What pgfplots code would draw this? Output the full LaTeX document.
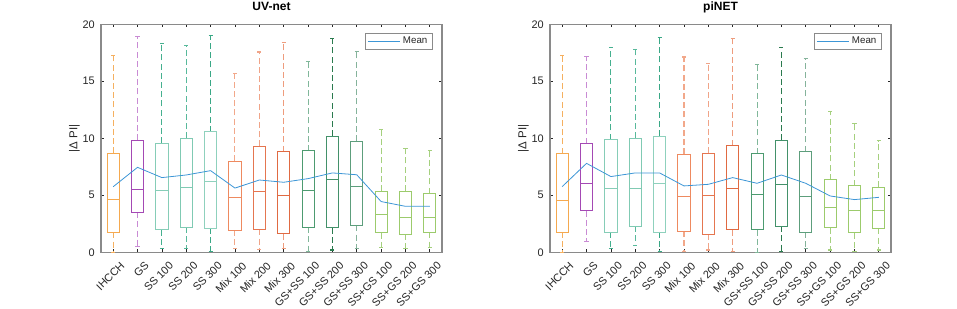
\documentclass[border=0pt]{standalone}
\usepackage{pgfplots}
\pgfplotsset{compat=1.18}
\usepackage{pgfplotstable}
\usepgfplotslibrary{statistics}
\usepackage{fontspec}
\setmainfont{Liberation Sans}

\definecolor{axgray}{HTML}{8A8A8A}
\definecolor{txt}{HTML}{262626}
\definecolor{meanc}{HTML}{3D96D6}
% box / whisker colours
\definecolor{b1}{HTML}{F5A94F}\definecolor{w1}{HTML}{F5B060}
\definecolor{b2}{HTML}{A449B4}\definecolor{w2}{HTML}{C98BD4}
\definecolor{b3}{HTML}{86CDB7}\definecolor{w3}{HTML}{45B08F}
\definecolor{b4}{HTML}{80CAB3}\definecolor{w4}{HTML}{58B99B}
\definecolor{b5}{HTML}{8FD1BD}\definecolor{w5}{HTML}{3AA886}
\definecolor{b6}{HTML}{EE8A60}\definecolor{w6}{HTML}{F2A88A}
\definecolor{b7}{HTML}{E57650}\definecolor{w7}{HTML}{F0A488}
\definecolor{b8}{HTML}{E06A42}\definecolor{w8}{HTML}{EE9C7D}
\definecolor{b9}{HTML}{4D9B70}\definecolor{w9}{HTML}{80B79A}
\definecolor{b10}{HTML}{43916A}\definecolor{w10}{HTML}{2A7A4E}
\definecolor{b11}{HTML}{5D9E7C}\definecolor{w11}{HTML}{85B39B}
\definecolor{b12}{HTML}{9CCB6C}\definecolor{w12}{HTML}{A5D07E}
\definecolor{b13}{HTML}{9CCB6C}\definecolor{w13}{HTML}{A5D07E}
\definecolor{b14}{HTML}{9CCB6C}\definecolor{w14}{HTML}{A5D07E}

% UV-net: lower whisker, Q1, median, Q3, upper whisker, mean
\pgfplotstableread{
pos lw q1 med q3 uw mean
1 0.00 1.75 4.60 8.68 17.30 5.75
2 0.50 3.52 5.47 9.82 18.90 7.45
3 0.37 1.96 5.42 9.57 18.30 6.55
4 0.37 2.21 5.67 9.98 18.10 6.78
5 0.10 2.13 6.18 10.57 19.00 7.16
6 0.30 1.95 4.85 7.97 15.72 5.63
7 0.25 2.00 5.30 9.28 17.57 6.34
8 0.33 1.62 5.00 8.83 18.39 6.14
9 0.05 2.20 5.40 8.89 16.70 6.46
10 0.20 2.15 6.42 10.19 18.77 6.96
11 0.30 2.36 5.80 9.74 17.60 6.80
12 0.40 1.71 3.32 5.37 10.75 4.45
13 0.30 1.60 3.03 5.37 9.08 4.03
14 0.45 1.75 3.03 5.15 8.90 4.03
}\uvnet

% piNET
\pgfplotstableread{
pos lw q1 med q3 uw mean
1 0.00 1.78 4.56 8.65 17.30 5.76
2 0.91 3.65 6.08 9.53 17.16 7.80
3 0.30 1.78 5.64 9.88 18.00 6.64
4 0.61 2.28 5.58 10.00 17.80 6.96
5 0.10 1.78 6.08 10.20 18.86 6.96
6 0.05 1.84 4.88 8.60 17.13 5.82
7 0.20 1.58 5.00 8.68 16.58 5.96
8 0.05 1.99 5.56 9.36 18.74 6.55
9 0.00 1.96 5.09 8.63 16.46 6.05
10 0.05 2.28 5.96 9.82 17.98 6.78
11 0.30 1.78 4.88 8.83 16.96 6.05
12 0.20 2.16 3.89 6.35 12.34 4.94
13 0.10 1.70 3.65 5.85 11.29 4.62
14 0.20 2.10 3.71 5.70 9.80 4.82
}\pinet

% #1 table, #2 row (0-based), #3 position
\newcommand{\bx}[3]{%
\pgfplotstablegetelem{#2}{lw}\of#1\edef\vlw{\pgfplotsretval}%
\pgfplotstablegetelem{#2}{q1}\of#1\edef\vqa{\pgfplotsretval}%
\pgfplotstablegetelem{#2}{med}\of#1\edef\vmd{\pgfplotsretval}%
\pgfplotstablegetelem{#2}{q3}\of#1\edef\vqb{\pgfplotsretval}%
\pgfplotstablegetelem{#2}{uw}\of#1\edef\vuw{\pgfplotsretval}%
\edef\doplot{\noexpand\addplot[forget plot, solid, draw=b#3, line width=0.65pt,
  boxplot prepared={draw direction=y, draw position=#3, lower whisker=\vlw,
    lower quartile=\vqa, median=\vmd, upper quartile=\vqb, upper whisker=\vuw,
    box extend=0.5, whisker extend=0.17},
  boxplot/every whisker/.style={draw=w#3, line width=0.8pt, dash pattern=on 4.5pt off 2.4pt}]
  coordinates {};}%
\doplot}

\newcommand{\allboxes}[1]{%
\bx{#1}{0}{1}\bx{#1}{1}{2}\bx{#1}{2}{3}\bx{#1}{3}{4}\bx{#1}{4}{5}%
\bx{#1}{5}{6}\bx{#1}{6}{7}\bx{#1}{7}{8}\bx{#1}{8}{9}\bx{#1}{9}{10}%
\bx{#1}{10}{11}\bx{#1}{11}{12}\bx{#1}{12}{13}\bx{#1}{13}{14}}

\pgfplotsset{
  panel/.style={
    scale only axis, width=255.75pt, height=171pt,
    xmin=0.5, xmax=14.5, ymin=0, ymax=20,
    xtick={1,...,14},
    xticklabels={IHCCH,GS,SS 100,SS 200,SS 300,Mix 100,Mix 200,Mix 300,GS+SS 100,GS+SS 200,GS+SS 300,SS+GS 100,SS+GS 200,SS+GS 300},
    ytick={0,5,10,15,20},
    tick align=inside, major tick length=2.4pt,
    axis line style={draw=axgray, line width=0.8pt},
    every tick/.style={draw=txt, line width=0.5pt},
    tick label style={font=\fontsize{8.2}{9.5}\selectfont, text=txt},
    /pgf/number format/assume math mode=true,
    xticklabel style={xshift=5pt, yshift=-5pt, rotate=45, anchor=north east, inner sep=1pt},
    yticklabel style={xshift=-1.2pt},
    ylabel={|Δ PI|},
    ylabel style={at={(axis description cs:-0.078,0.5)}, anchor=center, font=\fontsize{8.6}{10}\selectfont, text=txt},
    title style={at={(axis description cs:0.5,1)}, anchor=base, yshift=4.3pt, font=\bfseries\fontsize{9}{10}\selectfont, text=black},
    legend style={at={(1,1)}, anchor=north east, xshift=-6.75pt, yshift=-6.3pt,
      draw=axgray, line width=0.5pt, fill=white, font=\fontsize{7.3}{8.5}\selectfont,
      inner xsep=2pt, inner ysep=1pt, text=txt},
    legend image code/.code={\draw[##1] (0pt,0pt) -- (24pt,0pt);},
  }
}

\begin{document}
\begin{tikzpicture}
\useasboundingbox (0,0) rectangle (717.75pt,231pt);
\begin{axis}[panel, at={(75.75pt,41.8pt)}, anchor=south west, title={UV-net}]
\allboxes{\uvnet}
\addplot[meanc, line width=0.6pt] table[x=pos, y=mean] {\uvnet};
\addlegendentry{Mean}
\end{axis}
\begin{axis}[panel, at={(412.5pt,41.8pt)}, anchor=south west, title={piNET}]
\allboxes{\pinet}
\addplot[meanc, line width=0.6pt] table[x=pos, y=mean] {\pinet};
\addlegendentry{Mean}
\end{axis}
\end{tikzpicture}
\end{document}
